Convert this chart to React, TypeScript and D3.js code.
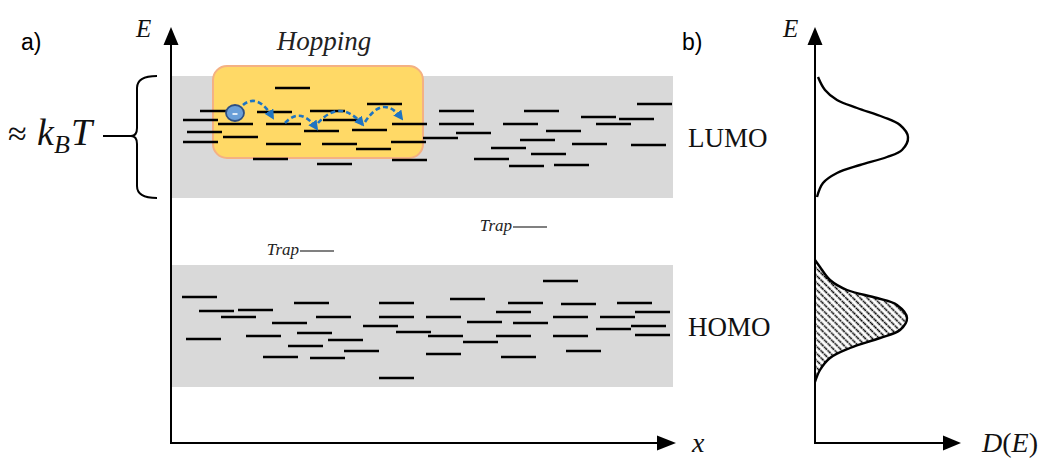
import React from "react";
import * as d3 from "d3";

// ---------- data (diagram units: x along transport axis, energy along E axis) ----------
const LEVEL_WIDTH = 35;

const LUMO_LEVELS_X = [104, 29, 86, 139, 196, 12, 47, 95, 152, 221, 16, 52, 133, 181, 12, 95, 151, 185, 220, 82, 146, 221,
  268, 353, 466, 410, 448, 268, 332, 425, 285, 375, 252, 349, 401, 460, 320, 360, 303, 338, 383];
const LUMO_LEVELS_E = [355, 332, 331, 332, 339, 323, 319, 319, 323, 319, 311, 306, 312, 313, 301, 299, 299, 294, 301, 284, 279, 283,
  332, 332, 339, 326, 324, 319, 319, 319, 310, 312, 305, 303, 299, 298, 295, 289, 284, 277, 278];

const HOMO_LEVELS_X = [11, 28, 67, 50, 123, 208, 145, 208, 101, 192, 225, 15, 75, 126, 157, 117, 173, 92, 139, 208,
  372, 279, 337, 390, 446, 255, 325, 296, 342, 382, 429, 464, 425, 460, 464, 257, 292, 325, 382, 255, 330, 395];
const HOMO_LEVELS_E = [146, 132, 133, 126, 140, 140, 126, 126, 120, 117, 111, 104, 107, 110, 103, 97, 92, 86, 85, 65,
  162, 144, 140, 139, 140, 126, 131, 121, 120, 126, 126, 131, 114, 117, 108, 107, 101, 107, 107, 89, 86, 92];

const TRAP_X = [129, 342];
const TRAP_E = [192, 216];

const BAND_NAMES = ["LUMO", "HOMO"];
const BAND_E_MIN = [245, 56];
const BAND_E_MAX = [367, 178];
const BAND_X = [1, 502];

const HOP_BOX_X = [42, 252];
const HOP_BOX_E = [285, 377];
const ELECTRON = [64, 330];
const HOP_FROM_X = [72, 114, 147, 194];
const HOP_FROM_E = [338, 320, 320, 321];
const HOP_TO_X = [102, 146, 192, 231];
const HOP_TO_E = [325, 314, 318, 324];
const HOP_PEAK_E = [341, 327, 332, 336];

// density of states (energy, density)
const LUMO_DOS_E = [366, 353, 343, 335, 326, 318, 306, 293, 286, 278, 270, 260, 246];
const LUMO_DOS_D = [3, 10, 22, 42, 68, 85, 93, 87, 72, 45, 22, 8, 2];
const HOMO_DOS_E = [183, 176, 163, 153, 145, 138, 125, 113, 105, 95, 85, 73, 61];
const HOMO_DOS_D = [0, 5, 15, 32, 62, 82, 92, 85, 65, 35, 15, 5, 0];

// ---------- scales ----------
const xScale = d3.scaleLinear().domain([0, 504]).range([171, 675]);
const eScale = d3.scaleLinear().domain([0, 415]).range([443, 28]);
const dScale = d3.scaleLinear().domain([0, 100]).range([815, 915]);

const serif = "'Liberation Serif', 'Times New Roman', serif";
const sans = "'Liberation Sans', Arial, sans-serif";

export default function App() {
  const axisY = eScale(0);
  const leftX = xScale(0);
  const dosX = dScale(0);

  const dosLine = d3
    .line<[number, number]>()
    .x((d) => dScale(d[1]))
    .y((d) => eScale(d[0]))
    .curve(d3.curveCatmullRom.alpha(0.5));

  const lumoPts = LUMO_DOS_E.map((e, i) => [e, LUMO_DOS_D[i]] as [number, number]);
  const homoPts = HOMO_DOS_E.map((e, i) => [e, HOMO_DOS_D[i]] as [number, number]);
  const homoPath = dosLine(homoPts) as string;

  const levelLine = (x: number, e: number, k: string) => (
    <line key={k} x1={xScale(x)} x2={xScale(x + LEVEL_WIDTH)} y1={eScale(e)} y2={eScale(e)} stroke="#000" strokeWidth={2.6} />
  );

  const hopPath = (i: number) => {
    const x0 = xScale(HOP_FROM_X[i]);
    const y0 = eScale(HOP_FROM_E[i]);
    const x2 = xScale(HOP_TO_X[i]);
    const y2 = eScale(HOP_TO_E[i]);
    const yp = eScale(HOP_PEAK_E[i]);
    const cx = (x0 + x2) / 2;
    const cy = 2 * yp - (y0 + y2) / 2;
    const p = d3.path();
    p.moveTo(x0, y0);
    p.quadraticCurveTo(cx, cy, x2, y2);
    return p.toString();
  };

  return (
    <svg width={1043} height={459} style={{ position: "absolute", left: 0, top: 0, background: "#fff" }}>
      <defs>
        <pattern id="hatch" patternUnits="userSpaceOnUse" width={5} height={5} patternTransform="rotate(-45)">
          <line x1={2.5} y1={0} x2={2.5} y2={5} stroke="#000" strokeWidth={1.6} strokeDasharray="2 0.8" />
        </pattern>
        <marker id="hopArrow" viewBox="0 0 10 10" refX={8} refY={5} markerWidth={10} markerHeight={10} markerUnits="userSpaceOnUse" orient="auto">
          <path d="M0,0 L10,5 L0,10 Z" fill="#1f74c2" />
        </marker>
      </defs>

      {/* energy bands */}
      {BAND_NAMES.map((name, i) => (
        <rect key={name} x={xScale(BAND_X[0])} y={eScale(BAND_E_MAX[i])} width={xScale(BAND_X[1]) - xScale(BAND_X[0])}
          height={eScale(BAND_E_MIN[i]) - eScale(BAND_E_MAX[i])} fill="#d9d9d9" />
      ))}

      {/* hopping box */}
      <rect x={xScale(HOP_BOX_X[0])} y={eScale(HOP_BOX_E[1])} width={xScale(HOP_BOX_X[1]) - xScale(HOP_BOX_X[0])}
        height={eScale(HOP_BOX_E[0]) - eScale(HOP_BOX_E[1])} rx={14} fill="#ffd966" stroke="#f4b183" strokeWidth={2} />

      {/* levels */}
      {LUMO_LEVELS_X.map((x, i) => levelLine(x, LUMO_LEVELS_E[i], "l" + i))}
      {HOMO_LEVELS_X.map((x, i) => levelLine(x, HOMO_LEVELS_E[i], "h" + i))}

      {/* traps */}
      {TRAP_X.map((x, i) => (
        <g key={"t" + i}>
          <text x={xScale(x) - 1} y={eScale(TRAP_E[i]) + 4} textAnchor="end" fontFamily={serif} fontStyle="italic" fontSize={17} fill="#222">Trap</text>
          <line x1={xScale(x)} x2={xScale(x + 34)} y1={eScale(TRAP_E[i])} y2={eScale(TRAP_E[i])} stroke="#808080" strokeWidth={2} />
        </g>
      ))}

      {/* hops */}
      {HOP_FROM_X.map((_, i) => (
        <path key={"hop" + i} d={hopPath(i)} fill="none" stroke="#1f74c2" strokeWidth={2.6} strokeDasharray="5 3" markerEnd="url(#hopArrow)" />
      ))}

      {/* electron */}
      <ellipse cx={xScale(ELECTRON[0])} cy={eScale(ELECTRON[1])} rx={9} ry={8} fill="#6a9fd8" stroke="#2f4f80" strokeWidth={1.8} />
      <line x1={xScale(ELECTRON[0]) - 2.5} x2={xScale(ELECTRON[0]) + 2.5} y1={eScale(ELECTRON[1]) + 1} y2={eScale(ELECTRON[1]) + 1} stroke="#fff" strokeWidth={1.6} />

      <text x={324} y={50} textAnchor="middle" fontFamily={serif} fontStyle="italic" fontSize={27} fill="#222">Hopping</text>

      {/* band labels */}
      {BAND_NAMES.map((name, i) => (
        <text key={"lab" + name} x={688} y={(eScale(BAND_E_MIN[i]) + eScale(BAND_E_MAX[i])) / 2 + 10} fontFamily={serif} fontSize={27} fill="#111">{name}</text>
      ))}

      {/* brace */}
      <path d={`M157,${eScale(BAND_E_MAX[0])} Q137,${eScale(BAND_E_MAX[0])} 137,${eScale(BAND_E_MAX[0]) + 12} L137,128 Q137,136 131,136 Q137,136 137,144 L137,${eScale(BAND_E_MIN[0]) - 12} Q137,${eScale(BAND_E_MIN[0])} 157,${eScale(BAND_E_MIN[0])}`}
        fill="none" stroke="#000" strokeWidth={2} />
      <line x1={103} x2={133} y1={136} y2={136} stroke="#000" strokeWidth={2} />
      <text y={145} fontFamily={serif} fill="#111">
        <tspan x={8} fontSize={34}>≈</tspan>
        <tspan x={37} fontSize={38} fontStyle="italic">k</tspan>
        <tspan x={54} y={153} fontSize={26} fontStyle="italic">B</tspan>
        <tspan x={71} y={145} fontSize={38} fontStyle="italic">T</tspan>
      </text>

      {/* panel a axes */}
      <line x1={leftX} x2={leftX} y1={axisY + 1} y2={42} stroke="#000" strokeWidth={2} />
      <path d={`M${leftX},27 L${leftX - 7.5},45 L${leftX + 7.5},45 Z`} fill="#000" />
      <line x1={leftX} x2={xScale(490)} y1={axisY} y2={axisY} stroke="#000" strokeWidth={2} />
      <path d={`M${xScale(505)},${axisY} L${xScale(486)},${axisY - 7.5} L${xScale(486)},${axisY + 7.5} Z`} fill="#000" />
      <text x={136} y={37} fontFamily={serif} fontStyle="italic" fontSize={25} fill="#111">E</text>
      <text x={692} y={452} fontFamily={serif} fontStyle="italic" fontSize={28} fill="#111">x</text>
      <text x={21} y={50} fontFamily={sans} fontSize={23} fill="#000">a)</text>

      {/* panel b */}
      <path d={`${homoPath} L${dosX},${eScale(HOMO_DOS_E[HOMO_DOS_E.length - 1])} L${dosX},${eScale(HOMO_DOS_E[0])} Z`} fill="url(#hatch)" stroke="none" />
      <path d={homoPath} fill="none" stroke="#000" strokeWidth={2.4} />
      <path d={dosLine(lumoPts) as string} fill="none" stroke="#000" strokeWidth={2.4} />
      <line x1={dosX} x2={dosX} y1={axisY + 1} y2={42} stroke="#000" strokeWidth={2} />
      <path d={`M${dosX},27 L${dosX - 7.5},45 L${dosX + 7.5},45 Z`} fill="#000" />
      <line x1={dosX} x2={dScale(131)} y1={axisY} y2={axisY} stroke="#000" strokeWidth={2} />
      <path d={`M${dScale(146)},${axisY} L${dScale(128)},${axisY - 7.5} L${dScale(128)},${axisY + 7.5} Z`} fill="#000" />
      <text x={783} y={37} fontFamily={serif} fontStyle="italic" fontSize={25} fill="#111">E</text>
      <text x={982} y={452} fontFamily={serif} fontSize={28} fill="#111">
        <tspan fontStyle="italic">D</tspan>(<tspan fontStyle="italic">E</tspan>)
      </text>
      <text x={682} y={50} fontFamily={sans} fontSize={23} fill="#000">b)</text>
    </svg>
  );
}
